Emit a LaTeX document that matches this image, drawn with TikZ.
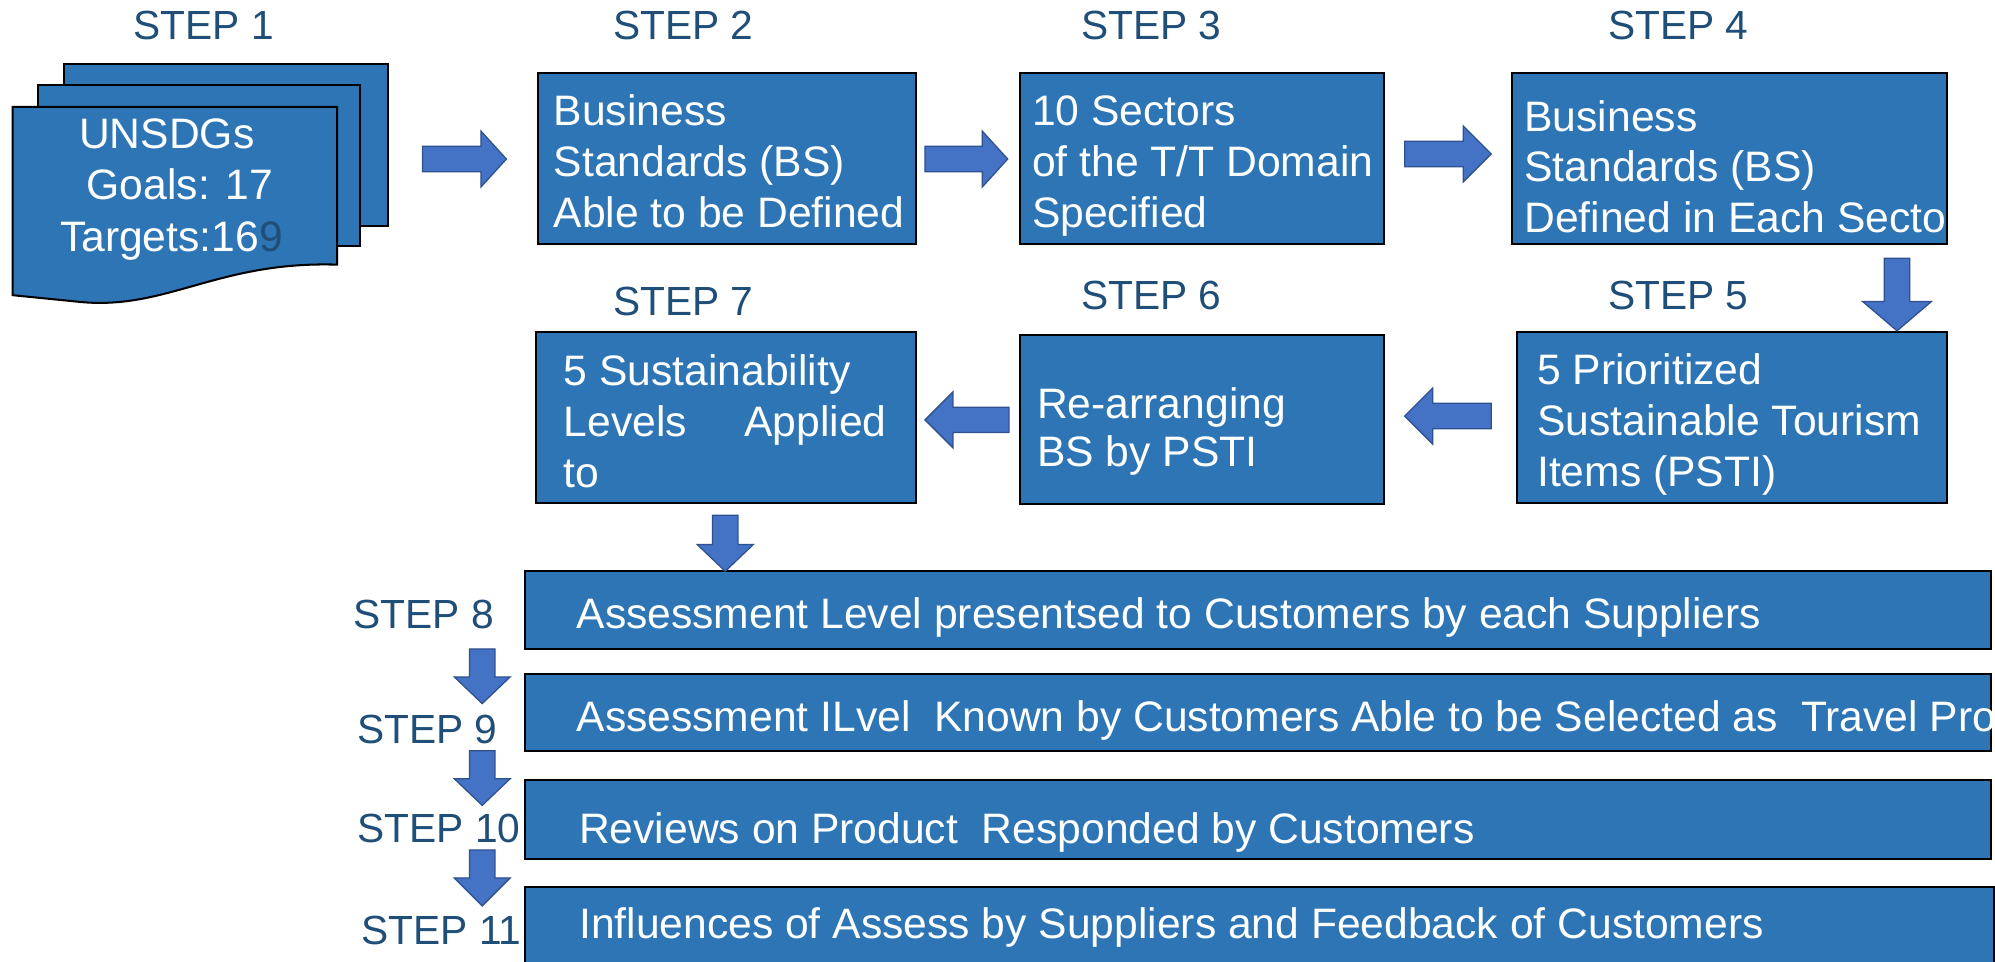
\documentclass[tikz,border=0pt]{standalone}
\usepackage{fontspec}
\setmainfont{Liberation Sans}
\definecolor{boxblue}{HTML}{2E75B6}
\definecolor{arrblue}{HTML}{4472C4}
\definecolor{arredge}{HTML}{2F528F}
\definecolor{steptxt}{HTML}{1F4E79}
\tikzset{
  box/.style={draw=black, line width=1.6pt, fill=boxblue, inner sep=0pt},
  txt/.style={text=white, font=\fontsize{33.5}{40}\selectfont, inner sep=0pt},
  steplbl/.style={text=steptxt, font=\fontsize{32}{38}\selectfont, inner sep=0pt},
  blk/.style={fill=arrblue, draw=arredge, line width=1pt, line join=miter},
}
% right arrow: x1, x2(tip), y, head start
\newcommand{\myarrR}[4]{\draw[blk] (#1,#3-10) -- (#4,#3-10) -- (#4,#3-22) -- (#2,#3) -- (#4,#3+22) -- (#4,#3+10) -- (#1,#3+10) -- cycle;}
% left arrow: tip x, tail x, y, head end
\newcommand{\myarrL}[4]{\draw[blk] (#2,#3-10) -- (#4,#3-10) -- (#4,#3-22) -- (#1,#3) -- (#4,#3+22) -- (#4,#3+10) -- (#2,#3+10) -- cycle;}
% down arrow: x, y1, y2(tip), head start, head half
\newcommand{\myarrD}[5]{\draw[blk] (#1-10,#2) -- (#1+10,#2) -- (#1+10,#4) -- (#1+#5,#4) -- (#1,#3) -- (#1-#5,#4) -- (#1-10,#4) -- cycle;}
\begin{document}
\begin{tikzpicture}[x=1pt,y=-1pt]
\useasboundingbox (0,0) rectangle (1568,756);
\clip (0,0) rectangle (1568,756);
\fill[white] (0,0) rectangle (1568,756);

% step labels
\node[steplbl] (l1) at (160,20) {STEP 1};
\node[steplbl] (l2) at (537,20) {STEP 2};
\node[steplbl] (l3) at (905,20) {STEP 3};
\node[steplbl] (l4) at (1319,20) {STEP 4};
\node[steplbl] (l5) at (1319,232) {STEP 5};
\node[steplbl] (l6) at (905,232) {STEP 6};
\node[steplbl] (l7) at (537,237) {STEP 7};
\node[steplbl] (l8) at (333,483) {STEP 8};
\node[steplbl] (l9) at (336,573) {STEP 9};
\node[steplbl] (l10) at (345,651) {STEP 10};
\node[steplbl] (l11) at (347,731) {STEP 11};

% step 1 document stack
\draw[box] (50,50) rectangle (305,178);
\draw[box] (30,67) rectangle (283,193);
\draw[box] (10,84) -- (265,84) -- (265,208) .. controls (170,205) and (130,245) .. (60,237) .. controls (35,235) .. (10,232) -- cycle;
\coordinate (s1) at (265,146);
\node[txt, anchor=base west] at (62,117) {UNSDGs};
\node[txt, anchor=base west] at (68,157) {Goals: 17};
\node[txt, anchor=base west] at (47,198) {Targets:16{\color{steptxt}9}};

% boxes
\node[box, minimum width=297pt, minimum height=135pt] (s2) at (571.5,124.5) {};
\node[box, minimum width=286pt, minimum height=135pt] (s3) at (945,124.5) {};
\node[box, minimum width=342pt, minimum height=135pt] (s4) at (1359,124.5) {};
\node[box, minimum width=338pt, minimum height=134pt] (s5) at (1361,328) {};
\node[box, minimum width=286pt, minimum height=133pt] (s6) at (945,329.5) {};
\node[box, minimum width=299pt, minimum height=134pt] (s7) at (570.5,328) {};
\node[box, minimum width=1152pt, minimum height=61pt] (s8) at (989,479.5) {};
\node[box, minimum width=1152pt, minimum height=60pt] (s9) at (989,560) {};
\node[box, minimum width=1152pt, minimum height=62pt] (s10) at (989,644) {};
\node[box, minimum width=1154pt, minimum height=73pt] (s11) at (990,733.5) {};

% texts
\node[txt, anchor=base west] at (435,99) {Business};
\node[txt, anchor=base west] at (435,139) {Standards (BS)};
\node[txt, anchor=base west] at (435,179) {Able to be Defined};

\node[txt, anchor=base west] at (811,99) {10 Sectors};
\node[txt, anchor=base west] at (811,139) {of the T/T Domain};
\node[txt, anchor=base west] at (811,179) {Specified};

\begin{scope}
\clip (s4.south west) rectangle (s4.north east);
\node[txt, anchor=base west] at (1198,103) {Business};
\node[txt, anchor=base west] at (1198,143) {Standards (BS)};
\node[txt, anchor=base west] at (1198,183) {Defined in Each Sector};
\end{scope}

\node[txt, anchor=base west] at (1208,302) {5 Prioritized};
\node[txt, anchor=base west] at (1208,342) {Sustainable Tourism};
\node[txt, anchor=base west] at (1208,382) {Items (PSTI)};

\node[txt, anchor=base west] at (815,329) {Re-arranging};
\node[txt, anchor=base west] at (815,367) {BS by PSTI};

\node[txt, anchor=base west] at (443,303) {5 Sustainability};
\node[txt, anchor=base west] at (443,343) {Levels};
\node[txt, anchor=base east] at (697,343) {Applied};
\node[txt, anchor=base west] at (443,383) {to};

\node[txt, anchor=base west] at (453,494) {Assessment Level presentsed to Customers by each Suppliers};
\begin{scope}
\clip (s9.south west) rectangle (s9.north east);
\node[txt, anchor=base west] at (453,575) {Assessment ILvel\ \ Known by Customers Able to be Selected as\ \ Travel Products};
\end{scope}
\node[txt, anchor=base west] at (455,663) {Reviews on Product\ \ Responded by Customers};
\node[txt, anchor=base west] at (455,738) {Influences of Assess by Suppliers and Feedback of Customers};

% block arrows
\myarrR{332}{398}{125}{378}
\myarrR{727}{792}{125}{772}
\myarrR{1104}{1172}{121}{1150}
\myarrD{1491}{203}{260}{237}{27}
\myarrL{1104}{1172}{327}{1126}
\myarrL{727}{793}{330}{749}
\myarrD{570}{405}{449}{428}{22}
\myarrD{379}{510}{553}{532}{22}
\myarrD{379}{590}{633}{612}{22}
\myarrD{379}{668}{712}{690}{22}
\end{tikzpicture}
\end{document}
